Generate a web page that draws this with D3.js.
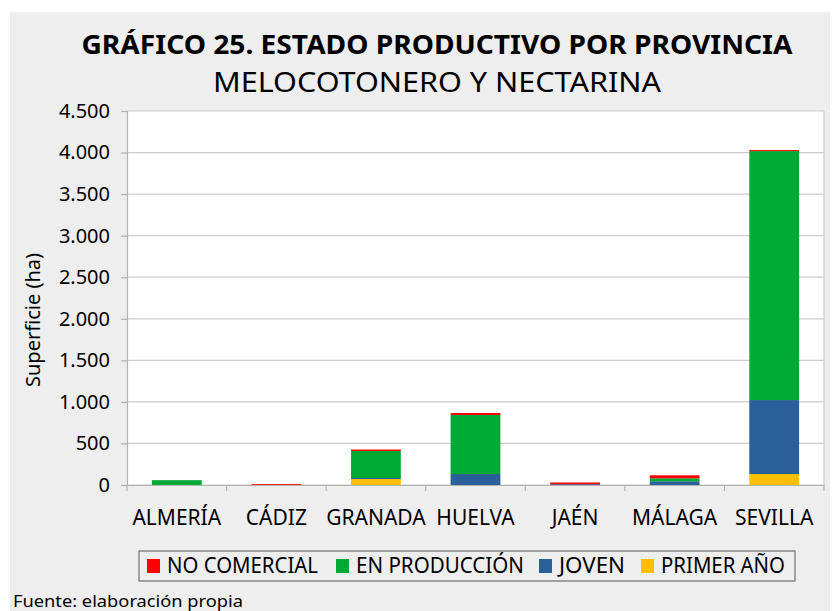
<!DOCTYPE html>
<html>
<head>
<meta charset="utf-8">
<script src="https://cdn.jsdelivr.net/npm/d3@7"></script>
<style>
  body { margin: 0; background: #fff; }
  svg { display: block; }
</style>
</head>
<body>
<div id="chart"></div>
<script>
const categories = ["ALMERÍA", "CÁDIZ", "GRANADA", "HUELVA", "JAÉN", "MÁLAGA", "SEVILLA"];
const seriesNames = ["PRIMER AÑO", "JOVEN", "EN PRODUCCIÓN", "NO COMERCIAL"];
const primerAno = [0, 0, 72, 0, 0, 0, 132];
const joven = [0, 0, 12, 132, 10, 45, 890];
const enProduccion = [58, 0, 325, 710, 0, 36, 2996];
const noComercial = [0, 10, 18, 24, 20, 36, 12];
const yTicks = [0, 500, 1000, 1500, 2000, 2500, 3000, 3500, 4000, 4500];
const legendOrder = ["NO COMERCIAL", "EN PRODUCCIÓN", "JOVEN", "PRIMER AÑO"];

const colors = {
  "NO COMERCIAL": "#ff0000",
  "EN PRODUCCIÓN": "#00a933",
  "JOVEN": "#2a6099",
  "PRIMER AÑO": "#ffbf00"
};

const W = 832, H = 611;
const plot = {left: 127, right: 824, top: 111, bottom: 485};
const font = "'Noto Sans', sans-serif";

const rows = categories.map((c, i) => ({
  cat: c,
  "PRIMER AÑO": primerAno[i],
  "JOVEN": joven[i],
  "EN PRODUCCIÓN": enProduccion[i],
  "NO COMERCIAL": noComercial[i]
}));

const svg = d3.select("#chart").append("svg")
  .attr("width", W).attr("height", H);

// background panel
svg.append("rect")
  .attr("x", 10).attr("y", 12).attr("width", 820).attr("height", H - 12)
  .attr("fill", "#eeeeee");

svg.append("rect")
  .attr("x", plot.left).attr("y", plot.top)
  .attr("width", plot.right - plot.left).attr("height", plot.bottom - plot.top)
  .attr("fill", "#ffffff");

const x = d3.scaleBand().domain(categories).range([plot.left, plot.right]).paddingInner(0).paddingOuter(0);
const y = d3.scaleLinear().domain([0, 4500]).range([plot.bottom, plot.top]);

// gridlines
svg.append("g").selectAll("line")
  .data(yTicks)
  .enter().append("line")
  .attr("x1", plot.left).attr("x2", plot.right)
  .attr("y1", d => y(d)).attr("y2", d => y(d))
  .attr("stroke", "#cccccc").attr("stroke-width", 1.2);

svg.append("line")
  .attr("x1", plot.right).attr("x2", plot.right)
  .attr("y1", plot.top).attr("y2", plot.bottom)
  .attr("stroke", "#cccccc").attr("stroke-width", 1.2);

// bars
const stack = d3.stack().keys(seriesNames)(rows);
const barW = x.bandwidth() * 0.5;
svg.append("g").selectAll("g")
  .data(stack)
  .enter().append("g")
  .attr("fill", d => colors[d.key])
  .selectAll("rect")
  .data(d => d)
  .enter().append("rect")
  .attr("x", d => x(d.data.cat) + (x.bandwidth() - barW) / 2)
  .attr("y", d => y(d[1]))
  .attr("width", barW)
  .attr("height", d => y(d[0]) - y(d[1]));

// y axis
const yAxis = svg.append("g")
  .attr("transform", `translate(${plot.left},0)`)
  .call(d3.axisLeft(y).tickValues(yTicks).tickSize(6).tickPadding(11)
    .tickFormat(d => d3.format(",")(d).replace(/,/g, ".")));
yAxis.select(".domain").attr("stroke", "#b3b3b3").attr("stroke-width", 1.2);
yAxis.selectAll(".tick line").attr("stroke", "#b3b3b3").attr("stroke-width", 1.2);
yAxis.selectAll("text").attr("font-family", font).attr("font-size", 20).attr("fill", "#000");

// x axis
const xAxis = svg.append("g")
  .attr("transform", `translate(0,${plot.bottom})`)
  .call(d3.axisBottom(x).tickSize(0).tickPadding(25));
xAxis.select(".domain").attr("stroke", "#b3b3b3").attr("stroke-width", 1.2);
xAxis.selectAll("text").attr("font-family", font).attr("font-size", 21).attr("fill", "#000");
svg.append("g").selectAll("line")
  .data(d3.range(categories.length + 1))
  .enter().append("line")
  .attr("x1", i => plot.left + i * x.bandwidth())
  .attr("x2", i => plot.left + i * x.bandwidth())
  .attr("y1", plot.bottom).attr("y2", plot.bottom + 6)
  .attr("stroke", "#b3b3b3").attr("stroke-width", 1.2);

// titles
svg.append("text")
  .attr("x", 437).attr("y", 54)
  .attr("text-anchor", "middle")
  .attr("font-family", font).attr("font-weight", "bold").attr("font-size", 26)
  .attr("textLength", 711).attr("lengthAdjust", "spacingAndGlyphs")
  .text("GRÁFICO 25. ESTADO PRODUCTIVO POR PROVINCIA");
svg.append("text")
  .attr("x", 437).attr("y", 92)
  .attr("text-anchor", "middle")
  .attr("font-family", font).attr("font-size", 27)
  .attr("textLength", 448).attr("lengthAdjust", "spacingAndGlyphs")
  .text("MELOCOTONERO Y NECTARINA");

// y axis title
svg.append("text")
  .attr("transform", "translate(40,320) rotate(-90)")
  .attr("text-anchor", "middle")
  .attr("font-family", font).attr("font-size", 19)
  .attr("textLength", 134).attr("lengthAdjust", "spacingAndGlyphs")
  .text("Superficie (ha)");

// legend
const legend = svg.append("g");
legend.append("rect")
  .attr("x", 139).attr("y", 551).attr("width", 656).attr("height", 30)
  .attr("fill", "#eeeeee").attr("stroke", "#555").attr("stroke-width", 1);
const legendX = [147, 336, 539, 641];
const legendTextW = [151, 168, 66, 124];
legendOrder.forEach((name, i) => {
  legend.append("rect")
    .attr("x", legendX[i]).attr("y", 559).attr("width", 13).attr("height", 14)
    .attr("fill", colors[name]);
  legend.append("text")
    .attr("x", legendX[i] + 20).attr("y", 573)
    .attr("font-family", font).attr("font-size", 21)
    .attr("textLength", legendTextW[i]).attr("lengthAdjust", "spacingAndGlyphs")
    .text(name);
});

svg.append("text")
  .attr("x", 13).attr("y", 607)
  .attr("font-family", font).attr("font-size", 16)
  .attr("textLength", 230).attr("lengthAdjust", "spacingAndGlyphs")
  .text("Fuente: elaboración propia");
</script>
</body>
</html>
